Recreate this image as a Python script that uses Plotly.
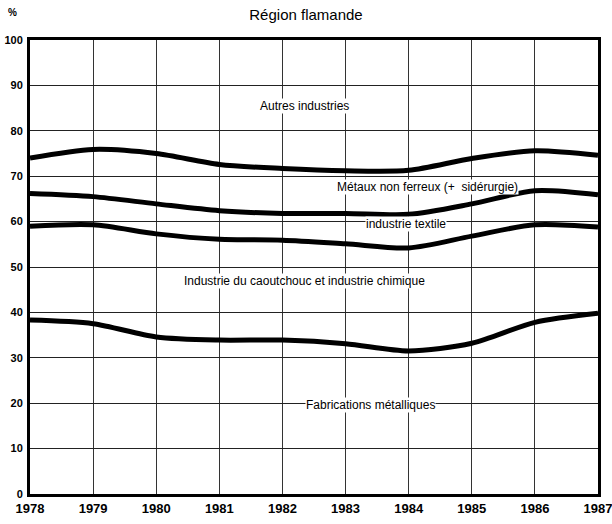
import plotly.graph_objects as go

years = [1978, 1979, 1980, 1981, 1982, 1983, 1984, 1985, 1986, 1987]
autres_boundary = [74.0, 75.9, 75.0, 72.6, 71.7, 71.2, 71.3, 73.9, 75.6, 74.6]
metaux_boundary = [66.2, 65.5, 63.9, 62.4, 61.8, 61.8, 61.6, 63.9, 66.8, 65.9]
textile_boundary = [59.0, 59.3, 57.3, 56.1, 55.9, 55.1, 54.2, 56.8, 59.3, 58.8]
chimie_boundary = [38.3, 37.5, 34.6, 33.9, 33.9, 33.1, 31.5, 33.2, 37.8, 39.8]

series = [autres_boundary, metaux_boundary, textile_boundary, chimie_boundary]

labels = [
    ("Autres industries", 1982.35, 85.5),
    ("Métaux non ferreux (+  sidérurgie)", 1984.3, 67.6),
    ("industrie textile", 1983.95, 59.5),
    ("Industrie du caoutchouc et industrie chimique", 1982.35, 47.0),
    ("Fabrications métalliques", 1983.4, 19.6),
]

FF = "Liberation Sans, Arial, sans-serif"

fig = go.Figure()
for s in series:
    fig.add_trace(go.Scatter(
        x=years, y=s, mode="lines",
        line=dict(color="black", width=5, shape="spline", smoothing=0.8),
        showlegend=False, hoverinfo="skip"))

for text, x, y in labels:
    fig.add_annotation(x=x, y=y, text=text, showarrow=False,
                       font=dict(family=FF, size=12, color="black"),
                       bgcolor="white", borderpad=0)

fig.add_annotation(xref="paper", yref="paper", x=-0.03, y=1.045, text="<b>%</b>",
                   showarrow=False, xanchor="center", yanchor="bottom",
                   font=dict(family=FF, size=10, color="black"))

fig.update_layout(
    width=612, height=524,
    margin=dict(l=30, r=14, t=40, b=30),
    paper_bgcolor="white", plot_bgcolor="white",
    title=dict(text="Région flamande", x=0.5, xanchor="center", y=0.972, yanchor="middle",
               font=dict(family=FF, size=15, color="black")),
    font=dict(family=FF, size=12, color="black"),
)
fig.update_xaxes(
    range=[1978, 1987], tickmode="array", tickvals=years,
    ticktext=["<b>%d</b>" % y for y in years],
    showgrid=True, gridcolor="#333", gridwidth=1,
    showline=True, linecolor="black", linewidth=3, mirror=True,
    zeroline=False, ticks="", automargin=False, ticklabeloverflow="allow",
    tickfont=dict(family=FF, size=13, color="black"),
)
fig.update_yaxes(
    range=[0, 100], tickmode="array", tickvals=list(range(0, 101, 10)),
    ticktext=["<b>%d</b>" % v for v in range(0, 101, 10)],
    showgrid=True, gridcolor="#222", gridwidth=1,
    showline=True, linecolor="black", linewidth=3, mirror=True,
    zeroline=False, ticks="", ticklabelstandoff=2, automargin=False,
    tickfont=dict(family=FF, size=11, color="black"),
)

fig.write_html("out.html", config={"displayModeBar": False},
               post_script="document.body.style.margin='0';document.body.style.overflow='hidden';")
